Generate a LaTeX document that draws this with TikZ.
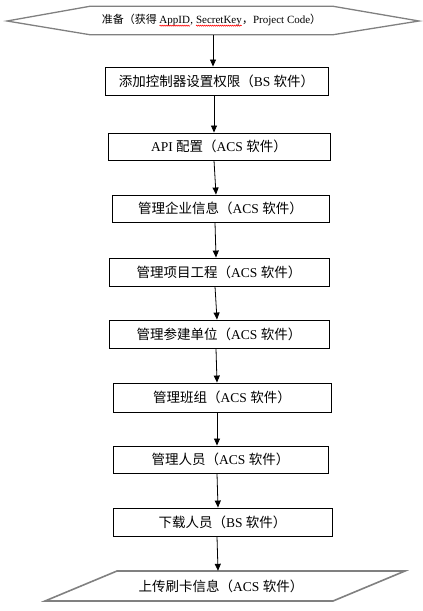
\documentclass[tikz,border=0pt]{standalone}
\usepackage{fontspec}
\setmainfont{Liberation Serif}
\newfontfamily\cjk{Noto Sans CJK SC}
\usetikzlibrary{arrows.meta,decorations.pathmorphing}
\newcommand\zh[1]{{\cjk #1}}
\newcommand\spellmark[1]{\tikz[baseline=(w.base)]{\node[inner sep=0pt,outer sep=0pt,minimum width=0pt,minimum height=0pt,draw=none](w){#1};\draw[red,line width=0.5pt,decorate,decoration={snake,amplitude=0.6pt,segment length=2pt}]([yshift=-1.8pt]w.base west)--([yshift=-1.8pt]w.base east);}}
\begin{document}
\begin{tikzpicture}[x=1pt,y=-1pt,
  stepbox/.style={draw=black,line width=0.9pt,inner sep=0pt,font=\fontsize{13.5}{15}\selectfont},
  flow/.style={draw=black,line width=0.8pt,-{Triangle[length=7pt,width=6pt]}},
  greyline/.style={draw=black!50,line width=1.6pt,line join=miter}]
\useasboundingbox (0,0) rectangle (423,611);
% hexagon start
\node[inner sep=0pt,minimum width=243pt,minimum height=28pt,font=\fontsize{11}{13}\selectfont] (prep) at (211.5,20.5)
  {\zh{准备（获得 }\spellmark{AppID}, \spellmark{SecretKey}\zh{，}Project Code\zh{）}};
\draw[greyline,line width=1.3pt] (prep.north west) -- (prep.north east) -- (419,21) -- (prep.south east) -- (prep.south west) -- (7,21) -- cycle;
% boxes
\node[stepbox,minimum width=223pt,minimum height=28pt] (b1) at (216.5,81) {\zh{添加控制器设置权限（}BS \zh{软件）}};
\node[stepbox,minimum width=222pt,minimum height=27pt] (b2) at (219,146.5) {API \zh{配置（}ACS \zh{软件）}};
\node[stepbox,minimum width=217pt,minimum height=27pt] (b3) at (220.5,208.5) {\zh{管理企业信息（}ACS \zh{软件）}};
\node[stepbox,minimum width=220pt,minimum height=28pt] (b4) at (219,272) {\zh{管理项目工程（}ACS \zh{软件）}};
\node[stepbox,minimum width=220pt,minimum height=28pt] (b5) at (219,334) {\zh{管理参建单位（}ACS \zh{软件）}};
\node[stepbox,minimum width=218pt,minimum height=29pt] (b6) at (222,397.5) {\zh{管理班组（}ACS \zh{软件）}};
\node[stepbox,minimum width=215pt,minimum height=27pt] (b7) at (220.5,459.5) {\zh{管理人员（}ACS \zh{软件）}};
\node[stepbox,minimum width=219pt,minimum height=28pt] (b8) at (222.5,522) {\zh{下载人员（}BS \zh{软件）}};
% parallelogram end
\node[inner sep=0pt,minimum height=30pt,font=\fontsize{13.5}{15}\selectfont] (up) at (221,586) {\zh{上传刷卡信息（}ACS \zh{软件）}};
\draw[greyline] (117,571) -- (405,571) -- (333,601) -- (45,601) -- cycle;
% connectors
\draw[flow] ([xshift=1.5pt]prep.south) -- ([xshift=-3.5pt]b1.north);
\draw[flow] ([xshift=-2.5pt]b1.south) -- ([xshift=-5pt]b2.north);
\draw[flow] ([xshift=-5pt]b2.south) -- ([xshift=-4.5pt]b3.north);
\draw[flow] ([xshift=-5.5pt]b3.south) -- ([xshift=-3pt]b4.north);
\draw[flow] ([xshift=-4pt]b4.south) -- ([xshift=-2pt]b5.north);
\draw[flow] ([xshift=-3pt]b5.south) -- ([xshift=-5pt]b6.north);
\draw[flow] ([xshift=-5pt]b6.south) -- ([xshift=-3.5pt]b7.north);
\draw[flow] ([xshift=-3.5pt]b7.south) -- ([xshift=-4.5pt]b8.north);
\draw[flow] ([xshift=-5.5pt]b8.south) -- ([xshift=-3pt]up.north);
\end{tikzpicture}
\end{document}
